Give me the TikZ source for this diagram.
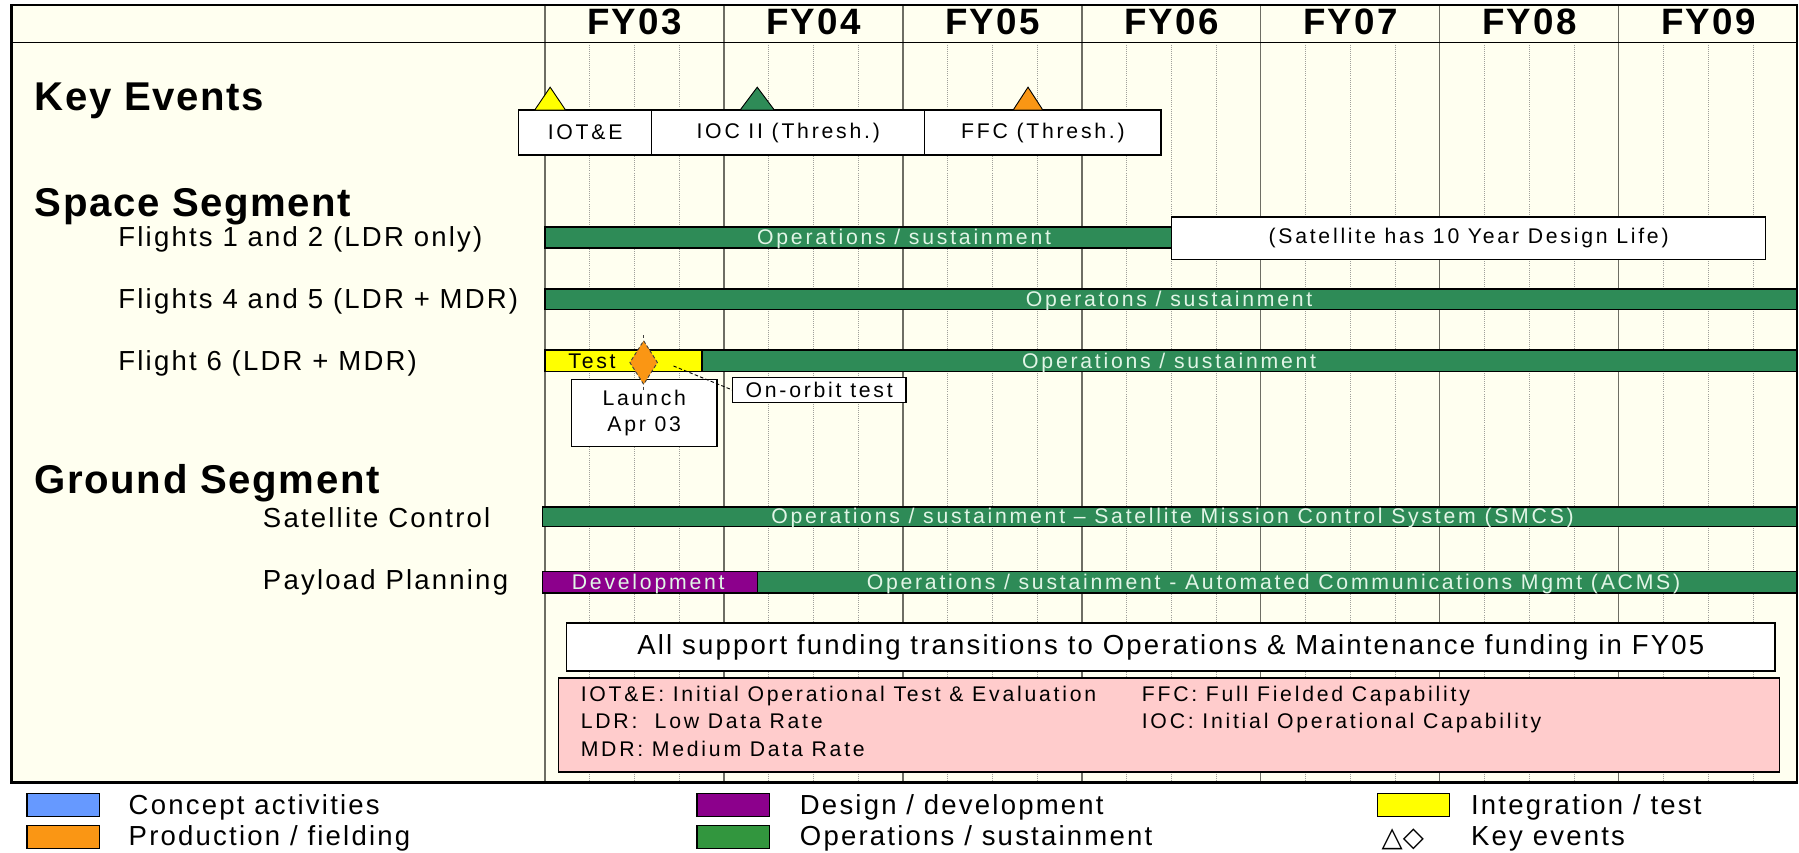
\documentclass[tikz,border=0pt]{standalone}
\usepackage{fontspec}
\setmainfont{Liberation Sans}
\newfontfamily\headfont{Liberation Sans}[LetterSpace=4]
\newfontfamily\yearfont{Liberation Sans}[LetterSpace=6]
\newfontfamily\rowfont{Liberation Sans}[LetterSpace=8]
\newfontfamily\barfont{Liberation Sans}[LetterSpace=13]
\newfontfamily\symfont{DejaVu Sans}
\usetikzlibrary{positioning}

\definecolor{cream}{RGB}{255,255,240}
\definecolor{opsgreen}{RGB}{46,139,87}
\definecolor{legendgreen}{RGB}{50,150,62}
\definecolor{devpurple}{RGB}{140,0,140}
\definecolor{testyellow}{RGB}{255,255,0}
\definecolor{prodorange}{RGB}{250,150,20}
\definecolor{conceptblue}{RGB}{102,153,255}
\definecolor{notepink}{RGB}{255,204,204}
\definecolor{bartext}{RGB}{225,245,230}
\definecolor{gridgray}{RGB}{110,110,100}
\definecolor{dotgray}{RGB}{160,160,155}

\tikzset{
  heading/.style={font=\headfont\bfseries\fontsize{35}{38}\selectfont, anchor=base west, inner sep=0pt},
  fyear/.style={font=\yearfont\bfseries\fontsize{32}{34}\selectfont, anchor=base, inner sep=0pt},
  rowname/.style={font=\rowfont\fontsize{24}{26}\selectfont, anchor=base west, inner sep=0pt},
  bartxt/.style={font=\barfont\fontsize{18.5}{20}\selectfont, text=bartext, anchor=base, inner sep=0pt},
  smalltxt/.style={font=\barfont\fontsize{18.5}{22}\selectfont, inner sep=0pt},
  bar/.style={draw=black, line width=1.2pt},
  whitebox/.style={draw=black, fill=white, line width=1.2pt, outer sep=0pt, inner sep=0pt},
  evcell/.style={whitebox, smalltxt, minimum height=39pt},
  swatch/.style={draw=black, line width=1.2pt, minimum width=63pt, minimum height=20pt, inner sep=0pt, anchor=north west}
}

\begin{document}
\begin{tikzpicture}[x=1pt,y=-1pt]
\useasboundingbox (0,0) rectangle (1568,743);
\fill[white] (0,0) rectangle (1568,743);
\fill[cream] (10,4) rectangle (1566,682);
\foreach \i in {0,...,6} {
  \foreach \q in {1,2,3}
    \draw[dotgray, densely dotted, line width=0.8pt] ({475+156*\i+39*\q},37) -- ++(0,645);
  \draw[gridgray, line width=1pt] ({475+156*\i},4) -- ++(0,678);
  \pgfmathtruncatemacro\yr{\i+3}
  \node[fyear] (fy\yr) at ({553+156*\i},30) {FY0\yr};
}
\draw[line width=1.5pt] (10,37) -- (1566,37);

\node[heading] (keyevents) at (30,96) {Key Events};
\node[evcell, minimum width=116pt] (iote) at (510,115.5) {IOT\&E};
\node[evcell, minimum width=238pt, right=0pt of iote] (ioc) {IOC II (Thresh.)};
\node[evcell, minimum width=206pt, right=0pt of ioc] (ffc) {FFC (Thresh.)};
\draw[fill=testyellow, line width=0.8pt] (466,96) -- (479.5,76) -- (493,96) -- cycle;
\draw[fill=opsgreen, line width=0.8pt] (645,96) -- (660,76) -- (675,96) -- cycle;
\draw[fill=prodorange, line width=0.8pt] (883,96) -- (896,76) -- (909,96) -- cycle;

\node[heading] (space) at (30,189) {Space Segment};
\node[rowname] (f12) at (103,215) {Flights 1 and 2 (LDR only)};
\node[rowname] (f45) at (103,269) {Flights 4 and 5 (LDR + MDR)};
\node[rowname] (f6) at (103,323) {Flight 6 (LDR + MDR)};

\draw[bar, fill=opsgreen] (475,198) rectangle (1022,216);
\node[bartxt] (f12ops) at (788,213) {Operations / sustainment};
\node[whitebox, smalltxt, minimum width=518pt, minimum height=37pt] (life) at (1280,207.5) {(Satellite has 10 Year Design Life)};
\draw[bar, fill=opsgreen] (475,252) rectangle (1566,270);
\node[bartxt] (f45ops) at (1019,267) {Operatons / sustainment};
\draw[bar, fill=testyellow] (475,305) rectangle (612,324);
\node[bartxt, text=black] (f6test) at (516,321) {Test};
\draw[bar, fill=opsgreen] (612,305) rectangle (1566,324);
\node[bartxt] (f6ops) at (1019,321) {Operations / sustainment};

\node[whitebox, smalltxt, align=center, minimum width=127pt, minimum height=58pt] (launch) at (561.5,360) {Launch\\Apr 03};
\draw[black!75, densely dashed, line width=0.8pt] (561,292) -- (561,340);
\draw[fill=prodorange, draw=black!75, densely dashed, line width=0.8pt] (561,297) -- (573,316) -- (561,335) -- (549,316) -- cycle;
\node[whitebox, smalltxt, minimum width=151pt, minimum height=22pt] (orbit) at (714,340) {On-orbit test};
\coordinate (orbitpt) at (587,319);
\draw[densely dashed, line width=0.8pt] (orbitpt) -- (orbit.west);

\node[heading] (ground) at (30,430) {Ground Segment};
\node[rowname] (satctl) at (229,460) {Satellite Control};
\node[rowname] (payload) at (229,514) {Payload Planning};
\draw[bar, fill=opsgreen] (473,442) rectangle (1566,459);
\node[bartxt] (smcs) at (1022,456) {Operations / sustainment – Satellite Mission Control System (SMCS)};
\draw[bar, fill=devpurple] (473,498) rectangle (660,517);
\node[bartxt] (paydev) at (565,514) {Development};
\draw[bar, fill=opsgreen] (660,498) rectangle (1566,517);
\node[bartxt] (acms) at (1110,514) {Operations / sustainment - Automated Communications Mgmt (ACMS)};

\node[whitebox, font=\rowfont\fontsize{24}{26}\selectfont, minimum width=1053pt, minimum height=42pt] (funding) at (1020.5,564) {All support funding transitions to Operations \& Maintenance funding in FY05};
\draw[fill=notepink, line width=1.2pt] (487,591) rectangle (1551,673);
\node[smalltxt, anchor=base west] (iotedef) at (506,611) {IOT\&E: Initial Operational Test \& Evaluation};
\node[smalltxt, anchor=base west] (ldrdef) at (506,635) {LDR:\ \ Low Data Rate};
\node[smalltxt, anchor=base west] (mdrdef) at (506,659) {MDR: Medium Data Rate};
\node[smalltxt, anchor=base west] (ffcdef) at (995,611) {FFC: Full Fielded Capability};
\node[smalltxt, anchor=base west] (iocdef) at (995,635) {IOC: Initial Operational Capability};

\draw[line width=1.8pt] (10,4) rectangle (1566,682);

\node[swatch, fill=conceptblue] (sw1) at (23,691) {};
\node[rowname] (lg1) at (112,710) {Concept activities};
\node[swatch, fill=prodorange] (sw2) at (23,719) {};
\node[rowname] (lg2) at (112,737) {Production / fielding};
\node[swatch, fill=devpurple] (sw3) at (607,691) {};
\node[rowname] (lg3) at (697,710) {Design / development};
\node[swatch, fill=legendgreen] (sw4) at (607,719) {};
\node[rowname] (lg4) at (697,737) {Operations / sustainment};
\node[swatch, fill=testyellow] (sw5) at (1200,691) {};
\node[rowname] (lg5) at (1282,710) {Integration / test};
\node[font=\symfont\fontsize{24}{26}\selectfont, anchor=base west, inner sep=0pt] (lgsym) at (1204,738) {△◇};
\node[rowname] (lg6) at (1282,737) {Key events};
\end{tikzpicture}
\end{document}
